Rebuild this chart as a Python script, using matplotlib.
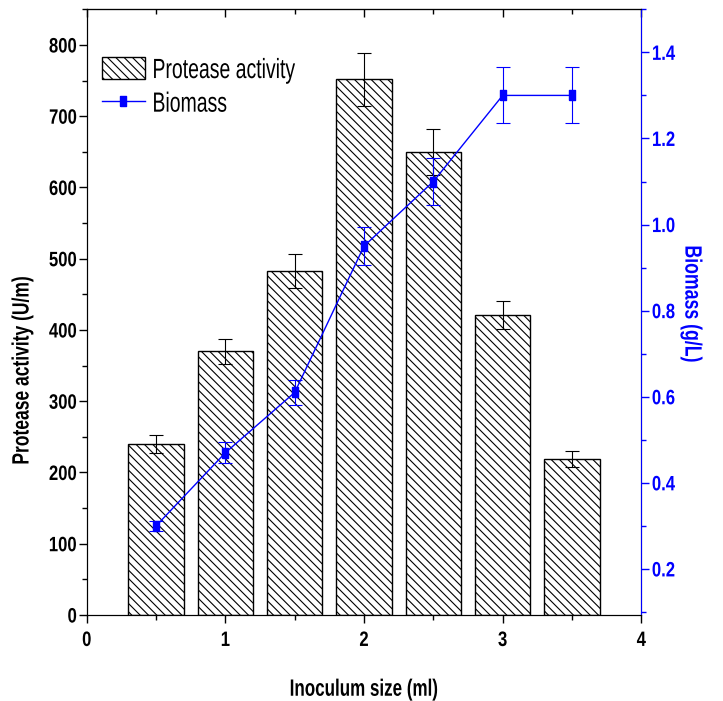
import numpy as np
import matplotlib.pyplot as plt
from matplotlib.patches import Patch
from matplotlib.lines import Line2D
from matplotlib.ticker import MultipleLocator
from matplotlib.patheffects import AbstractPathEffect
from matplotlib.transforms import Affine2D

plt.rcParams['font.family'] = ['Liberation Sans', 'DejaVu Sans']
plt.rcParams['hatch.linewidth'] = 0.8


class Squeeze(AbstractPathEffect):
    """narrow text along its own baseline (original figure is condensed)"""
    def __init__(self, sx, anchor='center'):
        super().__init__()
        self.sx = sx
        self.anchor = anchor

    def draw_path(self, renderer, gc, tpath, affine, rgbFace=None):
        ext = tpath.get_extents()
        if self.anchor == 'left':
            cx = ext.x0
        elif self.anchor == 'right':
            cx = ext.x1
        else:
            cx = (ext.x0 + ext.x1) / 2
        pre = Affine2D().translate(-cx, 0).scale(self.sx, 1).translate(cx, 0)
        renderer.draw_path(gc, tpath, pre + affine, rgbFace)


# data
inoculum = [0.5, 1.0, 1.5, 2.0, 2.5, 3.0, 3.5]
protease = [240, 370, 483, 752, 650, 421, 219]
protease_err = [13, 18, 24, 37, 32, 20, 11]
biomass = [0.30, 0.47, 0.61, 0.95, 1.10, 1.30, 1.30]
biomass_err = [0.012, 0.025, 0.03, 0.045, 0.055, 0.065, 0.065]

# squashed square marker, like in the original
box = [(-0.62, -1), (0.62, -1), (0.62, 1), (-0.62, 1), (-0.62, -1)]

fig = plt.figure(figsize=(7.23, 7.01), dpi=100)
ax = fig.add_axes([0.120, 0.1227, 0.767, 0.864])

ax.bar(inoculum, protease, width=0.4, color='white', edgecolor='black',
       linewidth=1.0, hatch='\\\\\\\\', yerr=protease_err,
       error_kw=dict(ecolor='black', elinewidth=0.8, capsize=5, capthick=0.8))
ax.set_xlim(0, 4)
ax.set_ylim(0, 850)
ax.xaxis.set_major_locator(MultipleLocator(1))
ax.xaxis.set_minor_locator(MultipleLocator(0.5))
ax.yaxis.set_major_locator(MultipleLocator(100))
ax.yaxis.set_minor_locator(MultipleLocator(50))
ax.tick_params(axis='both', which='major', direction='out', length=6, width=1,
               labelsize=15, top=False)
ax.tick_params(axis='both', which='minor', direction='out', length=3.5, width=1, top=False)
ax.tick_params(axis='x', which='major', pad=5.5)
ax.tick_params(axis='y', which='major', pad=1.0)

# top ticks point inward
top = ax.secondary_xaxis('top')
top.xaxis.set_major_locator(MultipleLocator(1))
top.xaxis.set_minor_locator(MultipleLocator(0.5))
top.tick_params(which='major', direction='in', length=6, width=1, labeltop=False)
top.tick_params(which='minor', direction='in', length=3.5, width=1)

for t in ax.xaxis.get_major_ticks():
    t.label1.set_fontweight('bold')
    t.label1.set_path_effects([Squeeze(0.8)])
for t in ax.yaxis.get_major_ticks():
    t.label1.set_fontweight('bold')
    t.label1.set_path_effects([Squeeze(0.8, 'right')])

ax.set_xlabel('Inoculum size (ml)', fontsize=17, fontweight='bold', labelpad=20,
              path_effects=[Squeeze(0.72)])
ax.set_ylabel('Protease activity (U/m)', fontsize=17, fontweight='bold',
              path_effects=[Squeeze(0.74)])
ax.yaxis.set_label_coords(-0.096, 0.404)

ax2 = ax.twinx()
ax2.errorbar(inoculum, biomass, yerr=biomass_err, color='blue', marker=box,
             markersize=7.8, linewidth=1.0, elinewidth=0.8, capsize=5, capthick=0.8)
ax2.set_ylim(0.093, 1.5)
ax2.yaxis.set_major_locator(MultipleLocator(0.2))
ax2.yaxis.set_minor_locator(MultipleLocator(0.1))
ax2.tick_params(axis='y', which='major', direction='out', length=6, width=1,
                colors='blue', labelsize=15, pad=1.5)
ax2.tick_params(axis='y', which='minor', direction='out', length=3.5, width=1, colors='blue')
ax2.spines['right'].set_color('blue')
for t in ax2.yaxis.get_major_ticks():
    t.label2.set_fontweight('bold')
    t.label2.set_path_effects([Squeeze(0.8, 'left')])
ax2.set_ylabel('Biomass (g/L)', fontsize=17, fontweight='bold', color='blue',
               rotation=270, path_effects=[Squeeze(0.75)])
ax2.yaxis.set_label_coords(1.112, 0.513)

handles = [Patch(facecolor='white', edgecolor='black', hatch='\\\\\\\\'),
           Line2D([], [], color='blue', marker=box, markersize=7.8, linewidth=1.0)]
leg = ax.legend(handles, ['Protease activity', 'Biomass'], loc='upper left',
                bbox_to_anchor=(-0.018, 0.962), frameon=False, fontsize=20,
                handlelength=1.55, handleheight=0.85, handletextpad=0.25,
                labelspacing=0.25)
for txt in leg.get_texts():
    txt.set_path_effects([Squeeze(0.7, 'left')])

fig.savefig('out.png', dpi=100)
